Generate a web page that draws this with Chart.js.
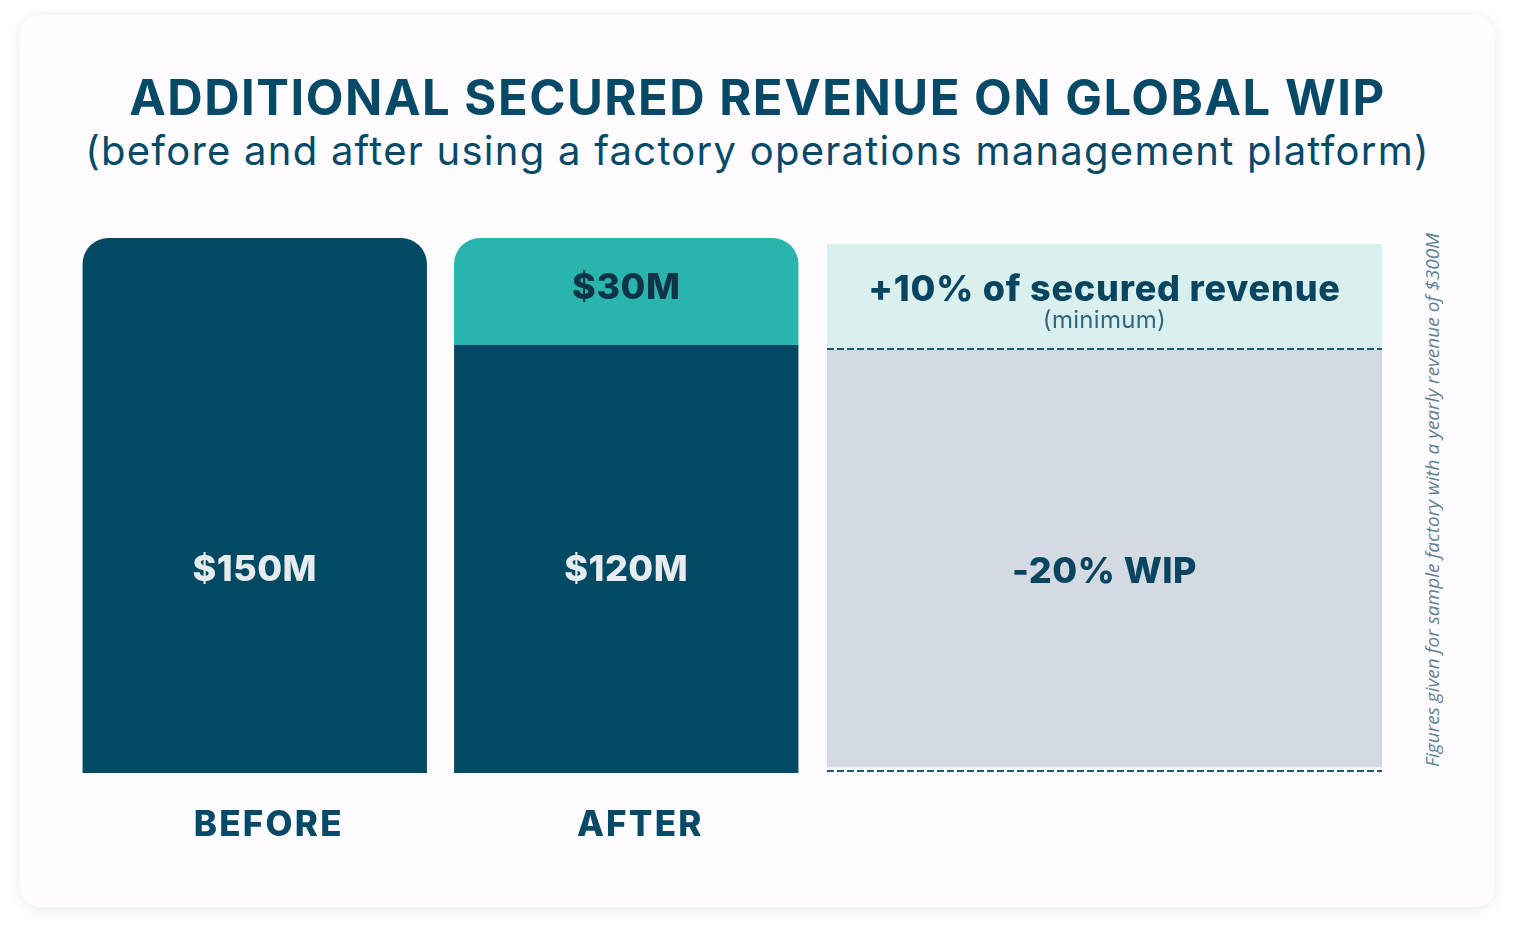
<!DOCTYPE html>
<html><head><meta charset="utf-8">
<script src="https://cdn.jsdelivr.net/npm/chart.js@4.4.1/dist/chart.umd.min.js"></script>
<style>
html,body{margin:0;padding:0;background:#ffffff;width:1515px;height:931px;overflow:hidden;}
#card{position:absolute;left:20px;top:15px;width:1475px;height:892px;background:#fefcfe;border-radius:20px;box-shadow:0 2px 14px rgba(0,0,0,0.09);}
.line{position:absolute;left:0;width:1515px;text-align:center;white-space:nowrap;color:#074a67;}
.line span{display:inline-block;}
#title{top:73px;font:700 49px/50px Inter, "DejaVu Sans", sans-serif;}
#subtitle{top:129px;font:400 40px/44px Inter, "DejaVu Sans", sans-serif;}
#side{position:absolute;left:1132px;top:488px;width:600px;height:24px;text-align:center;white-space:nowrap;
  font:italic 400 16px/24px "Open Sans", Lato, sans-serif;color:#5a8297;transform:rotate(-90deg);transform-origin:50% 50%;}
#side span{display:inline-block;}
canvas{position:absolute;}
#c1{left:69px;top:238px;}
#c2{left:827px;top:244px;}
</style>
</head><body>
<div id="card"></div>
<div class="line" id="title"><span id="titleText"></span></div>
<div class="line" id="subtitle"><span id="subText"></span></div>
<div id="side"><span id="sideText"></span></div>
<canvas id="c1" width="743" height="632" style="width:743px;height:632px"></canvas>
<canvas id="c2" width="555" height="530" style="width:555px;height:530px"></canvas>
<script>
// ---- data ----
const titleText = 'ADDITIONAL SECURED REVENUE ON GLOBAL WIP';
const subtitleText = '(before and after using a factory operations management platform)';
const sideNote = 'Figures given for sample factory with a yearly revenue of $300M';
const categories = ['BEFORE', 'AFTER'];
const baseValues = [150, 120];
const gainValues = [0, 30];
const baseLabels = ['$150M', '$120M'];
const gainLabels = ['', '$30M'];
const wipCategory = ['WIP'];
const wipBase = [120];
const wipGain = [30];
const wipBaseLabel = '-20% WIP';
const wipGainLabel = '+10% of secured revenue';
const wipGainSub = '(minimum)';

// ---- colours / styles ----
const DARK = '#024a63', TEAL = '#29b5ad', TEXT = '#074a67';
const GREY = '#d3dae2', LIGHT = '#d9f0ef', DASH = '#1d5a74', CARD = '#fefcfe';
const FONT = 'Inter, "DejaVu Sans", sans-serif';
const baseLabelAt = 57;

function fit(id, text, target){
  const el = document.getElementById(id);
  el.textContent = text;
  el.style.letterSpacing = '0px';
  const w = el.offsetWidth;
  el.style.letterSpacing = ((target - w) / text.length) + 'px';
}
function fitSize(id, text, target){
  const el = document.getElementById(id);
  el.textContent = text;
  const w = el.offsetWidth;
  el.style.fontSize = (16 * target / w) + 'px';
}
fit('titleText', titleText, 1257);
fit('subText', subtitleText, 1345);
fitSize('sideText', sideNote, 534);

const topRound = {topLeft: 26, topRight: 26, bottomLeft: 0, bottomRight: 0};

const spacing = {
  id: 'spacing',
  beforeDraw(chart){ chart.ctx.letterSpacing = '2.2px'; }
};

const barLabels = {
  id: 'barLabels',
  afterDatasetsDraw(chart){
    const ctx = chart.ctx, y = chart.scales.y;
    const m0 = chart.getDatasetMeta(0), m1 = chart.getDatasetMeta(1);
    ctx.save();
    ctx.letterSpacing = '0.5px';
    ctx.textAlign = 'center'; ctx.textBaseline = 'middle';
    ctx.font = '800 36px ' + FONT;
    m0.data.forEach((bar, i) => {
      ctx.fillStyle = '#e6ebef';
      ctx.fillText(baseLabels[i], bar.x, y.getPixelForValue(baseLabelAt));
    });
    m1.data.forEach((bar, i) => {
      if (!gainLabels[i]) return;
      ctx.fillStyle = '#0f3447';
      ctx.fillText(gainLabels[i], bar.x, (bar.y + bar.base) / 2 - 3);
    });
    ctx.restore();
  }
};

new Chart(document.getElementById('c1'), {
  type: 'bar',
  data: {
    labels: categories,
    datasets: [
      {data: baseValues, backgroundColor: DARK, stack: 's', categoryPercentage: 1, barPercentage: 0.927,
       borderSkipped: 'start', borderRadius: ctx => gainValues[ctx.dataIndex] ? 0 : topRound},
      {data: gainValues, backgroundColor: TEAL, stack: 's', categoryPercentage: 1, barPercentage: 0.927,
       borderSkipped: 'start', borderRadius: topRound}
    ]
  },
  options: {
    responsive: false, animation: false, devicePixelRatio: 1,
    layout: {padding: 0},
    plugins: {legend: {display: false}, tooltip: {enabled: false}, title: {display: false}},
    scales: {
      x: {stacked: true, grid: {display: false, drawTicks: false}, border: {display: false},
          ticks: {color: TEXT, font: {family: FONT, weight: '800', size: 35}, padding: 31, labelOffset: 14},
          afterFit(s){ s.height = 97; }},
      y: {display: false, stacked: true, min: 0, max: 150}
    }
  },
  plugins: [spacing, barLabels]
});

const wipPlugin = {
  id: 'wipPlugin',
  afterDatasetsDraw(chart){
    const ctx = chart.ctx, y = chart.scales.y, area = chart.chartArea;
    const mb = chart.getDatasetMeta(0), mg = chart.getDatasetMeta(1);
    ctx.save();
    ctx.strokeStyle = DASH; ctx.lineWidth = 2; ctx.setLineDash([7, 3]);
    [wipBase[0], 0].forEach(v => {
      const py = Math.round(y.getPixelForValue(v));
      ctx.beginPath(); ctx.moveTo(area.left, py); ctx.lineTo(area.right, py); ctx.stroke();
    });
    ctx.setLineDash([]);
    ctx.textAlign = 'center'; ctx.textBaseline = 'middle';
    const g = mg.data[0], b = mb.data[0];
    const gc = (g.y + g.base) / 2, bc = (b.y + b.base) / 2;
    ctx.fillStyle = '#0a4560';
    ctx.letterSpacing = '0.8px';
    ctx.font = '800 36px ' + FONT;
    ctx.fillText(wipGainLabel, g.x, gc - 7);
    ctx.letterSpacing = '0.3px';
    ctx.font = '400 24px ' + FONT;
    ctx.fillStyle = '#2f6780';
    ctx.fillText(wipGainSub, g.x, gc + 24);
    ctx.letterSpacing = '0.5px';
    ctx.font = '800 36px ' + FONT;
    ctx.fillStyle = '#0a4560';
    ctx.fillText(wipBaseLabel, b.x, bc + 12);
    ctx.restore();
  }
};

new Chart(document.getElementById('c2'), {
  type: 'bar',
  data: {
    labels: wipCategory,
    datasets: [
      {data: wipBase, backgroundColor: GREY, borderColor: CARD, borderSkipped: false,
       borderWidth: {top: 0, left: 0, right: 0, bottom: 4},
       stack: 'w', categoryPercentage: 1, barPercentage: 1},
      {data: wipGain, backgroundColor: LIGHT, stack: 'w', categoryPercentage: 1, barPercentage: 1}
    ]
  },
  options: {
    responsive: false, animation: false, devicePixelRatio: 1,
    layout: {padding: {bottom: 3}},
    plugins: {legend: {display: false}, tooltip: {enabled: false}},
    scales: {
      x: {display: false, stacked: true},
      y: {display: false, stacked: true, min: 0, max: 150}
    }
  },
  plugins: [wipPlugin]
});
</script>
</body></html>
